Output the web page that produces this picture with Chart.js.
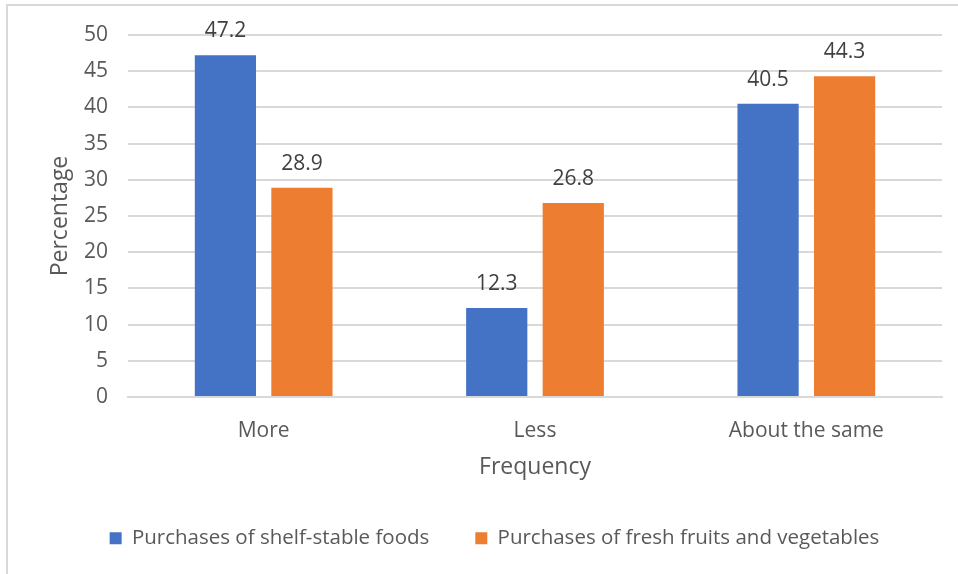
<!DOCTYPE html>
<html>
<head>
<meta charset="utf-8">
<script src="https://cdn.jsdelivr.net/npm/chart.js@4.4.1/dist/chart.umd.min.js"></script>
<style>
  html, body { margin: 0; padding: 0; background: #fff; }
  #wrap { position: relative; width: 958px; height: 574px; }
  #frame { position: absolute; left: 6px; top: 4px; right: -10px; bottom: -10px;
           border-top: 2px solid #d9d9d9; border-left: 2px solid #d9d9d9; }
  canvas { position: absolute; left: 0; top: 0; }
</style>
</head>
<body>
<div id="wrap">
  <div id="frame"></div>
  <canvas id="grafico" width="958" height="574"></canvas>
</div>
<script>
// ===== Dados =====
const categorias = ["More", "Less", "About the same"];
const prateleira = [47.2, 12.3, 40.5];   // shelf-stable foods
const frescos = [28.9, 26.8, 44.3];      // fresh fruits and vegetables
const nomesSeries = ["Purchases of shelf-stable foods", "Purchases of fresh fruits and vegetables"];
const ticksY = [0, 5, 10, 15, 20, 25, 30, 35, 40, 45, 50];

const FONTE = "'Open Sans', 'Liberation Sans', sans-serif";
const CINZA = "#595959";

// rótulos em cima das barras
const rotulos = {
  id: "rotulos",
  afterDatasetsDraw(chart) {
    const ctx = chart.ctx;
    ctx.save();
    ctx.font = "21px " + FONTE;
    ctx.fillStyle = "#404040";
    ctx.textAlign = "center";
    ctx.textBaseline = "middle";
    chart.data.datasets.forEach((ds, i) => {
      chart.getDatasetMeta(i).data.forEach((bar, j) => {
        ctx.fillText(ds.data[j].toFixed(1), bar.x, bar.y - 24);
      });
    });
    ctx.restore();
  }
};

new Chart(document.getElementById("grafico"), {
  type: "bar",
  data: {
    labels: categorias,
    datasets: [
      { label: nomesSeries[0], data: prateleira, backgroundColor: "#4472C4" },
      { label: nomesSeries[1], data: frescos, backgroundColor: "#ED7D31" },
    ],
  },
  options: {
    responsive: false,
    animation: false,
    layout: { padding: { left: 47, right: 16, top: 35, bottom: 15.5 } },
    datasets: { bar: { categoryPercentage: 0.564, barPercentage: 0.8 } },
    scales: {
      x: {
        grid: { display: false, drawTicks: false },
        border: { color: "#d9d9d9", width: 2 },
        ticks: { color: CINZA, font: { family: FONTE, size: 21 }, padding: 21 },
        title: { display: true, text: "Frequency", color: CINZA, font: { family: FONTE, size: 23 }, padding: { top: 0, bottom: 1 } },
        afterFit: s => { s.height = 85; },
      },
      y: {
        min: 0, max: 50,
        afterBuildTicks: s => { s.ticks = ticksY.map(v => ({ value: v })); },
        grid: { color: "#d9d9d9", lineWidth: 2, drawTicks: false },
        border: { display: false },
        ticks: { color: CINZA, font: { family: FONTE, size: 21 }, padding: 20 },
        title: { display: true, text: "Percentage", color: CINZA, font: { family: FONTE, size: 23 }, padding: { top: 0, bottom: 0 } },
        afterFit: s => { s.width = 81; },
      },
    },
    plugins: {
      legend: {
        position: "bottom",
        labels: { color: CINZA, font: { family: FONTE, size: 20.5 }, boxWidth: 12, boxHeight: 12, padding: 46 },
      },
      tooltip: { enabled: false },
    },
  },
  plugins: [rotulos],
});
</script>
</body>
</html>
